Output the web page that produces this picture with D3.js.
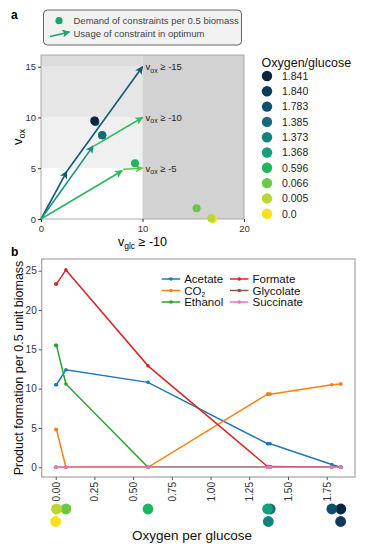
<!DOCTYPE html>
<html>
<head>
<meta charset="utf-8">
<script src="https://cdn.jsdelivr.net/npm/d3@7"></script>
<style>
  body { margin: 0; background: #fff; }
  svg { font-family: 'Liberation Sans', Arial, sans-serif; }
</style>
</head>
<body>
<div id="chart"></div>
<script>
// ---- panel a data ----
let ratioLabels = ['1.841', '1.840', '1.783', '1.385', '1.373', '1.368', '0.596', '0.066', '0.005', '0.0'];
let ratioValues = [1.841, 1.840, 1.783, 1.385, 1.373, 1.368, 0.596, 0.066, 0.005, 0.0];
let ratioColors = ['#0a2540', '#0c3a5a', '#0f4e6c', '#156a7c', '#11827e', '#13a07a', '#1db660', '#6cc747', '#b8d830', '#fde01a'];
let demandGlc = [5.25, 5.3, 5.36, 6.04, 6.03, 6.02, 9.26, 15.33, 16.78, 16.95];
let demandOx = [9.67, 9.7, 9.55, 8.25, 8.26, 8.24, 5.49, 1.05, 0.08, 0.0];

// usage arrows (glucose, oxygen)
let arrowFrom = [[0, 0], [2.55, 4.7], [0, 0], [5.25, 7.2], [0, 0], [8.1, 4.9]];
let arrowTo = [[2.55, 4.7], [10, 15], [5.15, 7.2], [10, 10], [8.0, 4.75], [10, 5]];
let arrowColors = ['#0f5a74', '#0f5a74', '#17907c', '#2dbd5c', '#27b85e', '#60c64b'];
let oxLimits = [-15, -10, -5];
let aTicksX = [0, 10, 20];
let aTicksY = [0, 5, 10, 15];

// ---- panel b data ----
let oxyX = [0.0, 0.005, 0.066, 0.596, 1.368, 1.373, 1.385, 1.783, 1.840, 1.841];
let productNames = ['Acetate', 'CO2', 'Ethanol', 'Formate', 'Glycolate', 'Succinate'];
let productColors = ['#1f77b4', '#ff7f0e', '#2ca02c', '#d62728', '#8c564b', '#e377c2'];
let acetate = [10.5, 10.5, 12.4, 10.8, 3.0, 3.0, 3.0, 0.35, 0.0, 0.0];
let co2 = [4.8, 4.8, 0.0, 0.0, 9.3, 9.3, 9.3, 10.5, 10.6, 10.6];
let ethanol = [15.5, 15.5, 10.6, 0.0, 0.0, 0.0, 0.0, 0.0, 0.0, 0.0];
let formate = [23.3, 23.3, 25.1, 12.9, 0.1, 0.1, 0.1, 0.0, 0.0, 0.0];
let glycolate = [0, 0, 0, 0, 0, 0, 0, 0, 0, 0];
let succinate = [0, 0, 0, 0, 0, 0, 0, 0, 0, 0];
let productValues = [acetate, co2, ethanol, formate, glycolate, succinate];
let bTicksX = [0, 0.25, 0.5, 0.75, 1.0, 1.25, 1.5, 1.75];
let bTicksY = [0, 5, 10, 15, 20, 25];
// row of the dot strip under the x axis (same order as oxyX)
let stripRow = [1, 0, 0, 0, 0, 1, 0, 0, 1, 0];

let svg = d3.select('#chart').append('svg')
  .attr('width', 367)
  .attr('height', 550);

// panel letters
svg.append('text').attr('x', 11).attr('y', 19).style('font-size', '12px').style('font-weight', 'bold').text('a');
svg.append('text').attr('x', 11).attr('y', 256).style('font-size', '12px').style('font-weight', 'bold').text('b');

// ================= panel a =================
let ax = d3.scaleLinear().domain([0, 20]).range([41, 244]);
let ay = d3.scaleLinear().domain([0, 15]).range([219, 66.7]);
let aTop = 55;

let pa = svg.append('g');

// shaded constraint regions
let bands = [[0, 5, '#ffffff'], [5, 10, '#f0f0f0'], [10, 15, '#e6e6e6'], [15, ay.invert(aTop), '#dcdcdc']];
bands.forEach(function (b) {
  pa.append('rect')
    .attr('x', ax(0)).attr('width', ax(10) - ax(0))
    .attr('y', ay(b[1])).attr('height', ay(b[0]) - ay(b[1]))
    .attr('fill', b[2]);
});
pa.append('rect')
  .attr('x', ax(10)).attr('width', ax(20) - ax(10))
  .attr('y', aTop).attr('height', ay(0) - aTop)
  .attr('fill', '#d2d2d2');
pa.append('rect')
  .attr('x', ax(0)).attr('width', ax(20) - ax(0))
  .attr('y', aTop).attr('height', ay(0) - aTop)
  .attr('fill', 'none').attr('stroke', '#9a9a9a').attr('stroke-width', 0.8);

// axes
let axA = pa.append('g').attr('transform', 'translate(0,' + ay(0) + ')')
  .call(d3.axisBottom(ax).tickValues(aTicksX).tickSize(3).tickSizeOuter(0));
let ayA = pa.append('g').attr('transform', 'translate(' + ax(0) + ',0)')
  .call(d3.axisLeft(ay).tickValues(aTicksY).tickSize(3).tickSizeOuter(0));
[axA, ayA].forEach(function (g) {
  g.select('.domain').remove();
  g.selectAll('line').attr('stroke', '#333');
  g.selectAll('text').style('font-size', '9.5px').attr('fill', '#333').style('font-family', 'Liberation Sans, Arial');
});
ayA.selectAll('text').attr('x', -5);
axA.selectAll('text').attr('y', 6);

// axis titles
let ytA = pa.append('text')
  .attr('transform', 'translate(22,' + ((ay(0) + aTop) / 2) + ') rotate(-90)')
  .attr('text-anchor', 'middle')
  .style('font-size', '13px');
ytA.append('tspan').text('v');
ytA.append('tspan').attr('dy', 3).style('font-size', '9px').text('ox');

let xtA = pa.append('text')
  .attr('x', ax(10)).attr('y', 246)
  .attr('text-anchor', 'middle')
  .style('font-size', '12.5px');
xtA.append('tspan').text('v');
xtA.append('tspan').attr('dy', 3).style('font-size', '8.5px').text('glc');
xtA.append('tspan').attr('dy', -3).text(' \u2265 -10');

// arrow markers, one per colour
let defs = svg.append('defs');
let uniqueColors = Array.from(new Set(arrowColors.concat(['#1aa36c'])));
uniqueColors.forEach(function (c) {
  defs.append('marker')
    .attr('id', 'arr' + c.slice(1))
    .attr('viewBox', '0 0 10 10')
    .attr('refX', 9).attr('refY', 5)
    .attr('markerWidth', 8).attr('markerHeight', 8)
    .attr('markerUnits', 'userSpaceOnUse')
    .attr('orient', 'auto')
    .append('path')
    .attr('d', 'M0,0 L10,5 L0,10 L2.5,5 z')
    .attr('fill', c);
});

arrowFrom.forEach(function (f, i) {
  let t = arrowTo[i];
  pa.append('line')
    .attr('x1', ax(f[0])).attr('y1', ay(f[1]))
    .attr('x2', ax(t[0])).attr('y2', ay(t[1]))
    .attr('stroke', arrowColors[i])
    .attr('stroke-width', 1.6)
    .attr('marker-end', 'url(#arr' + arrowColors[i].slice(1) + ')');
});

// limit labels
oxLimits.forEach(function (v) {
  let t = pa.append('text')
    .attr('x', ax(10) + 3).attr('y', ay(-v) + 3.5)
    .style('font-size', '9.5px').attr('fill', '#222');
  t.append('tspan').text('v');
  t.append('tspan').attr('dy', 2.5).style('font-size', '7px').text('ox');
  t.append('tspan').attr('dy', -2.5).text(' \u2265 ' + v);
});

// demand points (drawn from last to first)
let order = d3.range(ratioValues.length).reverse();
pa.selectAll('circle.demand')
  .data(order)
  .enter().append('circle')
  .attr('class', 'demand')
  .attr('cx', function (i) { return ax(demandGlc[i]); })
  .attr('cy', function (i) { return ay(demandOx[i]); })
  .attr('r', 4)
  .attr('fill', function (i) { return ratioColors[i]; });

// top legend box
let lg = svg.append('g');
lg.append('rect')
  .attr('x', 43.5).attr('y', 10).attr('width', 198).attr('height', 35)
  .attr('rx', 4)
  .attr('fill', '#f2f2f2').attr('stroke', '#555').attr('stroke-width', 0.9);
lg.append('circle').attr('cx', 59).attr('cy', 20.7).attr('r', 3.6).attr('fill', '#1aa36c');
lg.append('line')
  .attr('x1', 50).attr('y1', 36.5).attr('x2', 69.5).attr('y2', 32)
  .attr('stroke', '#1aa36c').attr('stroke-width', 1.6)
  .attr('marker-end', 'url(#arr1aa36c)');
lg.append('text').attr('x', 73.5).attr('y', 24).style('font-size', '9.5px').attr('fill', '#444')
  .text('Demand of constraints per 0.5 biomass');
lg.append('text').attr('x', 73.5).attr('y', 37).style('font-size', '9.5px').attr('fill', '#444')
  .text('Usage of constraint in optimum');

// colour legend
let cl = svg.append('g');
cl.append('text').attr('x', 261.5).attr('y', 66.5).style('font-size', '12.5px').attr('fill', '#111')
  .text('Oxygen/glucose');
ratioLabels.forEach(function (lab, i) {
  let cy = 76 + i * 15.3;
  cl.append('circle').attr('cx', 267).attr('cy', cy).attr('r', 5.2).attr('fill', ratioColors[i]);
  cl.append('text').attr('x', 282).attr('y', cy + 3.8).style('font-size', '10.5px').attr('fill', '#222').text(lab);
});

// ================= panel b =================
let bx = d3.scaleLinear().domain([0, 1.75]).range([55.7, 326.7]);
let by = d3.scaleLinear().domain([0, 25]).range([467.3, 270.7]);
let bLeft = 41.7, bRight = 355, bTop = 259, bBottom = 477;

let pb = svg.append('g');
pb.append('rect')
  .attr('x', bLeft).attr('y', bTop)
  .attr('width', bRight - bLeft).attr('height', bBottom - bTop)
  .attr('fill', '#fff').attr('stroke', '#aaa').attr('stroke-width', 1.3);

let bxA = pb.append('g').attr('transform', 'translate(0,' + bBottom + ')')
  .call(d3.axisBottom(bx).tickValues(bTicksX).tickFormat(d3.format('.2f')).tickSize(3).tickSizeOuter(0));
let byA = pb.append('g').attr('transform', 'translate(' + bLeft + ',0)')
  .call(d3.axisLeft(by).tickValues(bTicksY).tickSize(3).tickSizeOuter(0));
[bxA, byA].forEach(function (g) {
  g.select('.domain').remove();
  g.selectAll('line').attr('stroke', '#555');
  g.selectAll('text').style('font-size', '10px').attr('fill', '#333').style('font-family', 'Liberation Sans, Arial');
});
byA.selectAll('text').attr('x', -5);
bxA.selectAll('text')
  .attr('transform', 'rotate(-90)')
  .attr('x', -5).attr('y', 0).attr('dy', '0.35em')
  .attr('text-anchor', 'end');

// y title
pb.append('text')
  .attr('transform', 'translate(22.5,' + ((bTop + bBottom) / 2) + ') rotate(-90)')
  .attr('text-anchor', 'middle')
  .style('font-size', '12.5px').attr('fill', '#111')
  .text('Product formation per 0.5 unit biomass');
// x title
pb.append('text')
  .attr('x', 192).attr('y', 540)
  .attr('text-anchor', 'middle')
  .style('font-size', '13.5px').attr('fill', '#111')
  .text('Oxygen per glucose');

// product lines
let line = d3.line()
  .x(function (d) { return bx(d[0]); })
  .y(function (d) { return by(d[1]); });

productValues.forEach(function (vals, k) {
  let pts = oxyX.map(function (x, i) { return [x, vals[i]]; });
  pb.append('path')
    .datum(pts)
    .attr('fill', 'none')
    .attr('stroke', productColors[k])
    .attr('stroke-width', 1.5)
    .attr('d', line);
  pb.selectAll('circle.p' + k)
    .data(pts)
    .enter().append('circle')
    .attr('class', 'p' + k)
    .attr('cx', function (d) { return bx(d[0]); })
    .attr('cy', function (d) { return by(d[1]); })
    .attr('r', 1.8)
    .attr('fill', productColors[k]);
});

// product legend
productNames.forEach(function (name, k) {
  let col = Math.floor(k / 3), row = k % 3;
  let x0 = col === 0 ? 161.7 : 230;
  let y0 = 279 + row * 11.5;
  pb.append('line')
    .attr('x1', x0).attr('x2', x0 + 18.5)
    .attr('y1', y0).attr('y2', y0)
    .attr('stroke', productColors[k]).attr('stroke-width', 1.5);
  pb.append('circle').attr('cx', x0 + 9.25).attr('cy', y0).attr('r', 1.8).attr('fill', productColors[k]);
  let t = pb.append('text')
    .attr('x', x0 + 22.5).attr('y', y0 + 4)
    .style('font-size', '11.5px').attr('fill', '#111');
  if (name === 'CO2') {
    t.append('tspan').text('CO');
    t.append('tspan').attr('dy', 2).style('font-size', '6.5px').text('2');
  } else {
    t.text(name);
  }
});

// dot strip under the axis (drawn right to left so lower ratios sit on top)
let stripOrder = d3.range(oxyX.length).reverse();
pb.selectAll('circle.strip')
  .data(stripOrder)
  .enter().append('circle')
  .attr('class', 'strip')
  .attr('cx', function (i) { return bx(oxyX[i]); })
  .attr('cy', function (i) { return 509 + stripRow[i] * 12.5; })
  .attr('r', 5.4)
  .attr('fill', function (i) { return ratioColors[ratioValues.indexOf(oxyX[i])]; });
</script>
</body>
</html>
